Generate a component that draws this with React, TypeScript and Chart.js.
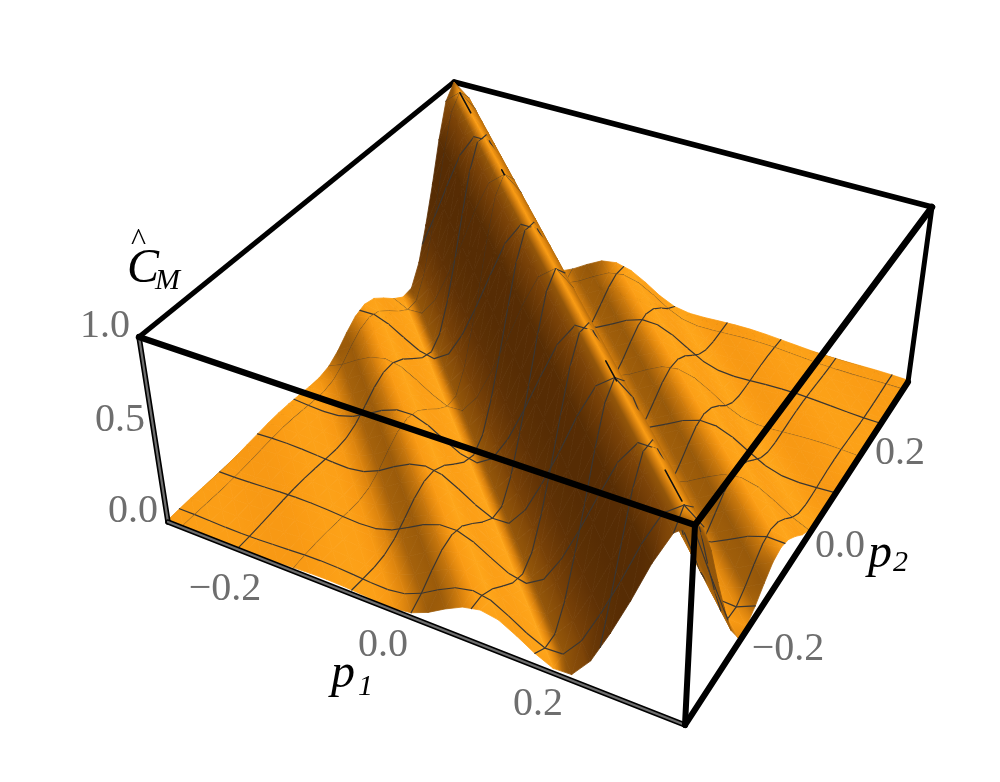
import React, { useEffect, useRef } from "react";
import { Chart, registerables } from "chart.js";

Chart.register(...registerables);

// Surface heights, in thousandths of the Z axis.
// Rows run along p2 (-0.3 -> 0.3), columns along p1 (-0.3 -> 0.3), step 0.02.
const heightRows: number[][] = [
[10,12,12,10,8,8,10,15,20,25,27,25,20,14,12,25,62,115,160,180,165,118,65,25,30,135,310,510,735,925,1000],
[12,12,10,8,8,10,15,20,25,27,25,20,14,12,25,62,115,160,180,165,118,65,25,30,135,310,510,735,925,1000,925],
[12,10,8,8,10,15,20,25,27,25,20,14,12,25,62,115,160,180,165,118,65,25,30,135,310,510,735,925,1000,925,735],
[10,8,8,10,15,20,25,27,25,20,14,12,25,62,115,160,180,165,118,65,25,30,135,310,510,735,925,1000,925,735,510],
[8,8,10,15,20,25,27,25,20,14,12,25,62,115,160,180,165,118,65,25,30,135,310,510,735,925,1000,925,735,510,310],
[8,10,15,20,25,27,25,20,14,12,25,62,115,160,180,165,118,65,25,30,135,310,510,735,925,1000,925,735,510,310,135],
[10,15,20,25,27,25,20,14,12,25,62,115,160,180,165,118,65,25,30,135,310,510,735,925,1000,925,735,510,310,135,30],
[15,20,25,27,25,20,14,12,25,62,115,160,180,165,118,65,25,30,135,310,510,735,925,1000,925,735,510,310,135,30,25],
[20,25,27,25,20,14,12,25,62,115,160,180,165,118,65,25,30,135,310,510,735,925,1000,925,735,510,310,135,30,25,65],
[25,27,25,20,14,12,25,62,115,160,180,165,118,65,25,30,135,310,510,735,925,1000,925,735,510,310,135,30,25,65,118],
[27,25,20,14,12,25,62,115,160,180,165,118,65,25,30,135,310,510,735,925,1000,925,735,510,310,135,30,25,65,118,165],
[25,20,14,12,25,62,115,160,180,165,118,65,25,30,135,310,510,735,925,1000,925,735,510,310,135,30,25,65,118,165,180],
[20,14,12,25,62,115,160,180,165,118,65,25,30,135,310,510,735,925,1000,925,735,510,310,135,30,25,65,118,165,180,160],
[14,12,25,62,115,160,180,165,118,65,25,30,135,310,510,735,925,1000,925,735,510,310,135,30,25,65,118,165,180,160,115],
[12,25,62,115,160,180,165,118,65,25,30,135,310,510,735,925,1000,925,735,510,310,135,30,25,65,118,165,180,160,115,62],
[25,62,115,160,180,165,118,65,25,30,135,310,510,735,925,1000,925,735,510,310,135,30,25,65,118,165,180,160,115,62,25],
[62,115,160,180,165,118,65,25,30,135,310,510,735,925,1000,925,735,510,310,135,30,25,65,118,165,180,160,115,62,25,12],
[115,160,180,165,118,65,25,30,135,310,510,735,925,1000,925,735,510,310,135,30,25,65,118,165,180,160,115,62,25,12,14],
[160,180,165,118,65,25,30,135,310,510,735,925,1000,925,735,510,310,135,30,25,65,118,165,180,160,115,62,25,12,14,20],
[180,165,118,65,25,30,135,310,510,735,925,1000,925,735,510,310,135,30,25,65,118,165,180,160,115,62,25,12,14,20,25],
[165,118,65,25,30,135,310,510,735,925,1000,925,735,510,310,135,30,25,65,118,165,180,160,115,62,25,12,14,20,25,27],
[118,65,25,30,135,310,510,735,925,1000,925,735,510,310,135,30,25,65,118,165,180,160,115,62,25,12,14,20,25,27,25],
[65,25,30,135,310,510,735,925,1000,925,735,510,310,135,30,25,65,118,165,180,160,115,62,25,12,14,20,25,27,25,20],
[25,30,135,310,510,735,925,1000,925,735,510,310,135,30,25,65,118,165,180,160,115,62,25,12,14,20,25,27,25,20,15],
[30,135,310,510,735,925,1000,925,735,510,310,135,30,25,65,118,165,180,160,115,62,25,12,14,20,25,27,25,20,15,10],
[135,310,510,735,925,1000,925,735,510,310,135,30,25,65,118,165,180,160,115,62,25,12,14,20,25,27,25,20,15,10,8],
[310,510,735,925,1000,925,735,510,310,135,30,25,65,118,165,180,160,115,62,25,12,14,20,25,27,25,20,15,10,8,8],
[510,735,925,1000,925,735,510,310,135,30,25,65,118,165,180,160,115,62,25,12,14,20,25,27,25,20,15,10,8,8,10],
[735,925,1000,925,735,510,310,135,30,25,65,118,165,180,160,115,62,25,12,14,20,25,27,25,20,15,10,8,8,10,12],
[925,1000,925,735,510,310,135,30,25,65,118,165,180,160,115,62,25,12,14,20,25,27,25,20,15,10,8,8,10,12,12],
[1000,925,735,510,310,135,30,25,65,118,165,180,160,115,62,25,12,14,20,25,27,25,20,15,10,8,8,10,12,12,10],
];

const meshP1 = [-0.28, -0.21, -0.14, -0.07, 0, 0.07, 0.14, 0.21, 0.28];
const meshP2 = [-0.28, -0.21, -0.14, -0.07, 0, 0.07, 0.14, 0.21, 0.28];
const crestMarks = [[1.0, 2.8], [7.6, 8.0], [21.0, 22.2], [27.2, 28.8]];

const zTicks = [["1.0", 130, 337], ["0.5", 145, 431], ["0.0", 158, 522]];
const p1Ticks = [["\u22120.2", 225, 600], ["0.0", 383, 656], ["0.2", 538, 715]];
const p2Ticks = [["\u22120.2", 788, 660], ["0.0", 840, 557], ["0.2", 900, 464]];

// Box corners in canvas units: floor and lid, [L, F, R, B]
const floorCorners = [[168, 522], [685, 725], [908, 382], [462, 246]];
const lidCorners = [[139, 337], [695, 525], [932, 207], [454, 82]];

const N = heightRows.length - 1;
const zScale = 1000;

function homography(q: number[][]) {
  const [[x0, y0], [x1, y1], [x2, y2], [x3, y3]] = q;
  const dx1 = x1 - x2, dx2 = x3 - x2, sx = x0 - x1 + x2 - x3;
  const dy1 = y1 - y2, dy2 = y3 - y2, sy = y0 - y1 + y2 - y3;
  const den = dx1 * dy2 - dx2 * dy1;
  const g = (sx * dy2 - dx2 * sy) / den;
  const h = (dx1 * sy - sx * dy1) / den;
  const a = x1 - x0 + g * x1, b = x3 - x0 + h * x3;
  const d = y1 - y0 + g * y1, e = y3 - y0 + h * y3;
  return (u: number, v: number) => {
    const w = g * u + h * v + 1;
    return [(a * u + b * v + x0) / w, (d * u + e * v + y0) / w];
  };
}
const floorMap = homography(floorCorners);
const lidMap = homography(lidCorners);

function project(i: number, j: number, w: number) {
  const f = floorMap(i / N, j / N);
  const t = lidMap(i / N, j / N);
  return { x: f[0] + (t[0] - f[0]) * w, y: f[1] + (t[1] - f[1]) * w };
}

function nodeZ(i: number, j: number) {
  return heightRows[Math.max(0, Math.min(N, j))][Math.max(0, Math.min(N, i))] / zScale;
}
function sampleZ(a: number, b: number) {
  const i = Math.min(N - 1, Math.floor(a)), j = Math.min(N - 1, Math.floor(b));
  const u = a - i, v = b - j;
  return (
    nodeZ(i, j) * (1 - u) * (1 - v) +
    nodeZ(i + 1, j) * u * (1 - v) +
    nodeZ(i, j + 1) * (1 - u) * v +
    nodeZ(i + 1, j + 1) * u * v
  );
}

const RAMP: [number, number[]][] = [
  [0.06, [86, 44, 4]],
  [0.23, [125, 68, 8]],
  [0.63, [150, 88, 10]],
  [0.8, [220, 132, 14]],
  [0.92, [250, 155, 20]],
  [0.98, [255, 168, 28]],
];
function rampColor(v: number) {
  if (v <= RAMP[0][0]) return `rgb(${RAMP[0][1].join(",")})`;
  for (let k = 1; k < RAMP.length; k++) {
    if (v <= RAMP[k][0]) {
      const t = (v - RAMP[k - 1][0]) / (RAMP[k][0] - RAMP[k - 1][0]);
      const c = RAMP[k][1].map((c1, n) => Math.round(RAMP[k - 1][1][n] + (c1 - RAMP[k - 1][1][n]) * t));
      return `rgb(${c.join(",")})`;
    }
  }
  return `rgb(${RAMP[RAMP.length - 1][1].join(",")})`;
}

const H = 0.3 * N;
function nodeShade(i: number, j: number) {
  const i0 = Math.max(0, i - 1), i1 = Math.min(N, i + 1);
  const j0 = Math.max(0, j - 1), j1 = Math.min(N, j + 1);
  const zx = ((nodeZ(i1, j) - nodeZ(i0, j)) / (i1 - i0)) * H;
  const zy = ((nodeZ(i, j1) - nodeZ(i, j0)) / (j1 - j0)) * H;
  const len = Math.sqrt(zx * zx + zy * zy + 1);
  return (-zx * 0.2 - zy * 0.2 + 0.93) / len;
}

function triangleFill(ctx: CanvasRenderingContext2D, pts: { x: number; y: number }[], vals: number[]) {
  const [A, B, C] = pts;
  const [a, b, c] = vals;
  const e1x = B.x - A.x, e1y = B.y - A.y, e2x = C.x - A.x, e2y = C.y - A.y;
  const det = e1x * e2y - e2x * e1y;
  const lo = Math.min(a, b, c), hi = Math.max(a, b, c);
  if (Math.abs(det) < 1e-3 || hi - lo < 1e-4) return rampColor((a + b + c) / 3);
  const gx = ((b - a) * e2y - (c - a) * e1y) / det;
  const gy = ((c - a) * e1x - (b - a) * e2x) / det;
  const g2 = gx * gx + gy * gy;
  if (g2 < 1e-12) return rampColor((a + b + c) / 3);
  const grad = ctx.createLinearGradient(
    A.x + ((lo - a) * gx) / g2,
    A.y + ((lo - a) * gy) / g2,
    A.x + ((hi - a) * gx) / g2,
    A.y + ((hi - a) * gy) / g2
  );
  for (let s = 0; s <= 4; s++) grad.addColorStop(s / 4, rampColor(lo + ((hi - lo) * s) / 4));
  return grad;
}

function segmentSet(a: { x: number; y: number }, b: { x: number; y: number }, color: string, width: number) {
  return {
    data: [a, b],
    showLine: true,
    fill: false,
    borderColor: color,
    borderWidth: width,
    pointRadius: 0,
    borderCapStyle: "round",
    tension: 0,
  };
}

function buildDatasets(ctx: CanvasRenderingContext2D) {
  const painted: any[] = [];
  const corner = (q: number, w: number) => {
    const f = floorCorners[q], t = lidCorners[q];
    return { x: f[0] + (t[0] - f[0]) * w, y: f[1] + (t[1] - f[1]) * w };
  };
  const black = "#000000";
  // Box parts behind the surface
  painted.push(segmentSet(corner(0, 0), corner(3, 0), black, 3));
  painted.push(segmentSet(corner(3, 0), corner(2, 0), black, 3));
  painted.push(segmentSet(corner(3, 0), corner(3, 1), black, 3));
  painted.push(segmentSet(corner(0, 1), corner(3, 1), black, 5));
  painted.push(segmentSet(corner(3, 1), corner(2, 1), black, 5.5));

  const a1 = meshP1.map((p) => (p + 0.3) / 0.02);
  const a2 = meshP2.map((p) => (p + 0.3) / 0.02);
  const meshColor = "rgb(58,54,50)";

  const zAt = (i: number, j: number) => nodeZ(i, j);
  const shade: number[][] = [];
  for (let j = 0; j <= N; j++) {
    shade.push([]);
    for (let i = 0; i <= N; i++) shade[j].push(nodeShade(i, j));
  }

  for (let i = 0; i < N; i++) {
    for (let j = N - 1; j >= 0; j--) {
      const P00 = project(i, j, zAt(i, j));
      const P10 = project(i + 1, j, zAt(i + 1, j));
      const P11 = project(i + 1, j + 1, zAt(i + 1, j + 1));
      const P01 = project(i, j + 1, zAt(i, j + 1));
      const tris: [any[], number[]][] = [
        [[P10, P11, P01], [shade[j][i + 1], shade[j + 1][i + 1], shade[j + 1][i]]],
        [[P00, P10, P01], [shade[j][i], shade[j][i + 1], shade[j + 1][i]]],
      ];
      for (const [pts, vals] of tris) {
        const paint = triangleFill(ctx, pts, vals);
        painted.push({
          data: [pts[0], pts[1], pts[2], pts[0]],
          showLine: true,
          fill: "shape",
          backgroundColor: paint,
          borderColor: paint,
          borderWidth: 0.8,
          pointRadius: 0,
          tension: 0,
        });
      }
      for (const a of a1) {
        if (a >= i && a < i + 1) {
          painted.push(segmentSet(project(a, j, sampleZ(a, j)), project(a, j + 1, sampleZ(a, j + 1)), meshColor, 1.2));
        }
      }
      for (const b of a2) {
        if (b >= j && b < j + 1) {
          painted.push(segmentSet(project(i, b, sampleZ(i, b)), project(i + 1, b, sampleZ(i + 1, b)), meshColor, 1.2));
        }
      }
    }
  }

  for (const [s, e] of crestMarks) {
    painted.push(segmentSet(project(s, N - s, 1), project(e, N - e, 1), "#111111", 1.6));
  }

  // Box parts in front of the surface
  for (const [q1, w1, q2, w2] of [[0, 0, 0, 1], [0, 0, 1, 0]]) {
    painted.push(segmentSet(corner(q1, w1), corner(q2, w2), black, 5.5));
    painted.push(segmentSet(corner(q1, w1), corner(q2, w2), "#6e6e6e", 2.2));
  }
  painted.push(segmentSet(corner(1, 0), corner(2, 0), black, 6));
  painted.push(segmentSet(corner(2, 0), corner(2, 1), black, 5));
  painted.push(segmentSet(corner(1, 0), corner(1, 1), black, 6));
  painted.push(segmentSet(corner(0, 1), corner(1, 1), black, 6.5));
  painted.push(segmentSet(corner(1, 1), corner(2, 1), black, 6.5));
  return painted.reverse();
}

const textPlugin = {
  id: "plotText",
  afterDraw(chart: any) {
    const c: CanvasRenderingContext2D = chart.ctx;
    c.save();
    c.textBaseline = "alphabetic";
    c.textAlign = "right";
    c.fillStyle = "#6e6e6e";
    c.font = '40px "Liberation Serif"';
    for (const [t, x, y] of zTicks) c.fillText(t as string, x as number, y as number);
    c.textAlign = "center";
    for (const [t, x, y] of p1Ticks) c.fillText(t as string, x as number, y as number);
    for (const [t, x, y] of p2Ticks) c.fillText(t as string, x as number, y as number);
    c.fillStyle = "#000000";
    c.textAlign = "left";
    c.font = 'italic 48px "Liberation Serif"';
    c.fillText("p", 331, 687);
    c.fillText("p", 868, 567);
    c.fillText("C", 127, 282);
    c.font = 'italic 30px "Liberation Serif"';
    c.fillText("1", 358, 695);
    c.fillText("2", 893, 571);
    c.fillText("M", 155, 289);
    c.font = '32px "Liberation Serif"';
    c.fillText("^", 131, 250);
    c.restore();
  },
};

export default function App() {
  const ref = useRef<HTMLCanvasElement | null>(null);
  useEffect(() => {
    const canvas = ref.current!;
    const ctx = canvas.getContext("2d")!;
    const chart = new Chart(canvas, {
      type: "scatter",
      data: { datasets: buildDatasets(ctx) },
      plugins: [textPlugin],
      options: {
        animation: false,
        responsive: false,
        parsing: false,
        normalized: true,
        events: [],
        layout: { padding: 0 },
        plugins: { legend: { display: false }, tooltip: { enabled: false }, title: { display: false } },
        scales: {
          x: { type: "linear", display: false, min: 0, max: 1000 },
          y: { type: "linear", display: false, min: 0, max: 782, reverse: true },
        },
      },
    } as any);
    return () => chart.destroy();
  }, []);
  return (
    <div style={{ position: "absolute", left: 0, top: 0, width: 1000, height: 782, background: "#fff" }}>
      <canvas ref={ref} width={1000} height={782} style={{ display: "block" }} />
    </div>
  );
}
